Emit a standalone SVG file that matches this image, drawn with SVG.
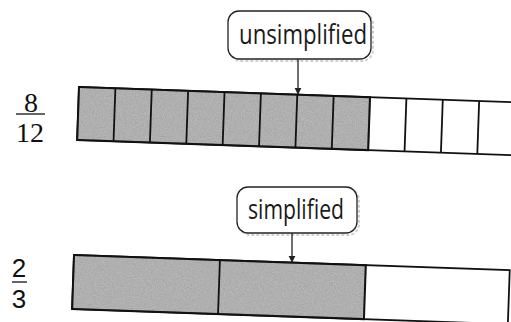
<svg xmlns="http://www.w3.org/2000/svg" width="511" height="322" viewBox="0 0 511 322">
<style>
.shade{fill:#a0a0a0;stroke:#111;stroke-width:2}
.empty{fill:#fff;stroke:#111;stroke-width:1.8}
.div{stroke:#111;stroke-width:1.8}
.box{fill:#fff;stroke:#222;stroke-width:1.3}
.shadow{fill:none;stroke:#cfcfcf;stroke-width:2;stroke-dasharray:3 2}
.lbl{font-family:"Open Sans","Liberation Sans",sans-serif;font-size:27px;fill:#1a1a1a}
.fr1{font-family:"Liberation Serif",serif;font-size:28px;fill:#111}
.fr2{font-family:"Liberation Sans",sans-serif;font-size:26px;fill:#111}
.conn{stroke:#222;stroke-width:1.3;fill:none}
</style>
<defs>
<marker id="ah" viewBox="0 0 10 10" refX="9" refY="5" markerWidth="7" markerHeight="8" orient="auto" markerUnits="userSpaceOnUse">
<path d="M0,0 L10,5 L0,10 z" fill="#222"/>
</marker>
<filter id="grain" x="0" y="0" width="1" height="1">
<feTurbulence type="fractalNoise" baseFrequency="0.9" numOctaves="2" seed="3" result="n"/>
<feColorMatrix in="n" type="matrix" values="0 0 0 0 0.55  0 0 0 0 0.55  0 0 0 0 0.55  0 0 0 1.4 -0.3" result="g"/>
<feComposite in="g" in2="SourceGraphic" operator="in" result="gc"/>
<feMerge><feMergeNode in="SourceGraphic"/><feMergeNode in="gc"/></feMerge>
</filter>
</defs>

<g id="fraction-8-12">
<text class="fr1" x="31" y="112" text-anchor="middle">8</text>
<line x1="16" y1="114" x2="45" y2="114" stroke="#111" stroke-width="1.3"/>
<text class="fr1" x="30" y="142" text-anchor="middle">12</text>
</g>

<g id="fraction-2-3">
<text class="fr2" x="19" y="277" text-anchor="middle">2</text>
<line x1="12" y1="282" x2="27" y2="282" stroke="#111" stroke-width="1.3"/>
<text class="fr2" x="19" y="308" text-anchor="middle">3</text>
</g>

<g id="bar-twelfths" transform="rotate(2 79 87)">
<rect class="empty" x="79" y="87" width="440" height="53"/>
<rect class="shade" x="79" y="87" width="291.2" height="53" filter="url(#grain)"/>
<rect x="79" y="87" width="291.2" height="53" fill="none" stroke="#111" stroke-width="2"/>
<line class="div" x1="115.4" y1="87" x2="115.4" y2="140"/>
<line class="div" x1="151.8" y1="87" x2="151.8" y2="140"/>
<line class="div" x1="188.2" y1="87" x2="188.2" y2="140"/>
<line class="div" x1="224.6" y1="87" x2="224.6" y2="140"/>
<line class="div" x1="261" y1="87" x2="261" y2="140"/>
<line class="div" x1="297.4" y1="87" x2="297.4" y2="140"/>
<line class="div" x1="333.8" y1="87" x2="333.8" y2="140"/>
<line class="div" x1="406.6" y1="87" x2="406.6" y2="140"/>
<line class="div" x1="443" y1="87" x2="443" y2="140"/>
<line class="div" x1="479.4" y1="87" x2="479.4" y2="140"/>
</g>

<g id="bar-thirds" transform="rotate(2 74 255)">
<rect class="empty" x="74" y="255" width="436" height="54"/>
<rect class="shade" x="74" y="255" width="292" height="54" filter="url(#grain)"/>
<rect x="74" y="255" width="292" height="54" fill="none" stroke="#111" stroke-width="2"/>
<line class="div" x1="220" y1="255" x2="220" y2="309"/>
</g>

<g id="callout-unsimplified">
<rect class="shadow" x="230" y="13" width="143" height="48" rx="11"/>
<rect class="box" x="228" y="11" width="143" height="48" rx="11"/>
<text class="lbl" x="303" y="44" text-anchor="middle" textLength="128" lengthAdjust="spacingAndGlyphs">unsimplified</text>
</g>

<g id="callout-simplified">
<rect class="shadow" x="239" y="189" width="120" height="46" rx="11"/>
<rect class="box" x="237" y="187" width="120" height="46" rx="11"/>
<text class="lbl" x="296" y="219" text-anchor="middle" textLength="96" lengthAdjust="spacingAndGlyphs">simplified</text>
</g>

<g id="connectors">
<line class="conn" x1="298" y1="59" x2="298" y2="94" marker-end="url(#ah)"/>
<line class="conn" x1="292" y1="233" x2="292" y2="262" marker-end="url(#ah)"/>
</g>
</svg>
